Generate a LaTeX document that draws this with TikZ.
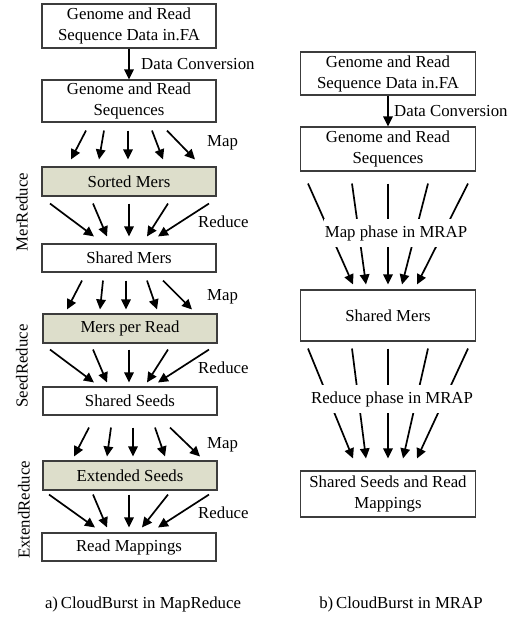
\documentclass[tikz,border=0pt]{standalone}
\usepackage{fontspec}
\setmainfont{Liberation Serif}
\usetikzlibrary{arrows.meta,calc}
\definecolor{boxgreen}{RGB}{221,222,203}
\definecolor{edgegray}{RGB}{60,60,60}
\begin{document}
\begin{tikzpicture}[x=1bp,y=-1bp,
  every node/.style={font=\fontsize{16.8bp}{21bp}\selectfont, inner sep=0pt},
  box/.style={draw=edgegray, line width=1.1bp, align=center, minimum width=174bp},
  gbox/.style={box, fill=boxgreen},
  arr/.style={line width=1.7bp, -{Triangle[length=10bp,width=9.5bp]}},
  lbl/.style={anchor=west},
  phase/.style={fill=white, inner xsep=1bp, inner ysep=6bp}]
\useasboundingbox (0,0) rectangle (517,617);
% left column
\node[box, minimum height=44bp] (l1) at (129,26) {Genome and Read\\Sequence Data in.FA};
\node[box, minimum height=42bp] (l2) at (129,101) {Genome and Read\\Sequences};
\node[gbox, minimum height=29bp] (l3) at (129,181.5) {Sorted Mers};
\node[box, minimum height=28bp] (l4) at (129,258) {Shared Mers};
\node[gbox, minimum height=29bp] (l5) at (130,328.5) {Mers per Read};
\node[box, minimum height=28bp] (l6) at (130,401) {Shared Seeds};
\node[gbox, minimum height=29bp] (l7) at (130,475.5) {Extended Seeds};
\node[box, minimum height=28bp] (l8) at (129,547) {Read Mappings};
\draw[arr] (l1) -- (l2);
\node[lbl] (dc1) at (141,64) {Data Conversion};
% map fan 1
\foreach \a/\b in {-43/-58,-25/-30,-1/-1,23/34,38/66}
  \draw[arr] ($(l2.south)+(\a,8)$) -- ($(l3.north)+(\b,-7)$);
\node[lbl] (m1) at (207,143) {Map};
% reduce fan 1
\foreach \a/\b in {-79/-35,-36/-22,0/0,39/18,80/29}
  \draw[arr] ($(l3.south)+(\a,7)$) -- ($(l4.north)+(\b,-7)$);
\node[lbl] (r1) at (198,222) {Reduce};
% map fan 2
\foreach \a/\b in {-47/-62,-26/-29,-3/-3,18/28,34/63}
  \draw[arr] ($(l4.south)+(\a,8)$) -- ($(l5.north)+(\b-1,-4)$);
\node[lbl] (m2) at (207,297) {Map};
% reduce fan 2
\foreach \a/\b in {-79/-35,-36/-22,0/0,39/18,80/29}
  \draw[arr] ($(l5.south)+(\a-1,6)$) -- ($(l6.north)+(\b-1,-4)$);
\node[lbl] (r2) at (198,368) {Reduce};
% map fan 3
\foreach \a/\b in {-40/-55,-18/-22,4/4,26/36,41/71}
  \draw[arr] ($(l6.south)+(\a-1,12)$) -- ($(l7.north)+(\b-1,-4)$);
\node[lbl] (m3) at (207,445) {Map};
% reduce fan 3
\foreach \a/\b in {-80/-34,-36/-22,0/0,39/13,80/29}
  \draw[arr] ($(l7.south)+(\a-1,4)$) -- ($(l8.north)+(\b,-5)$);
\node[lbl] (r3) at (198,513) {Reduce};
% side labels
\node[rotate=90] (s1) at (22,212) {MerReduce};
\node[rotate=90] (s2) at (22,366) {SeedReduce};
\node[rotate=90] (s3) at (24,510) {ExtendReduce};
\node (ca) at (143,604) {a)\,CloudBurst in MapReduce};
% right column
\node[box, minimum width=175bp, minimum height=43bp] (q1) at (388,73.5) {Genome and Read\\Sequence Data in.FA};
\node[box, minimum width=175bp, minimum height=44bp] (q2) at (388,149) {Genome and Read\\Sequences};
\node[box, minimum width=175bp, minimum height=51bp] (q3) at (388,315.5) {Shared Mers};
\node[box, minimum width=175bp, minimum height=46bp] (q4) at (388,494) {Shared Seeds and Read\\Mappings};
\draw[arr] (q1) -- (q2);
\node[lbl] (dc2) at (394,111) {Data Conversion};
\foreach \a/\b in {-80/-35,-36/-22,0/0,40/14,80/29}
  \draw[arr] ($(q2.south)+(\a,12)$) -- ($(q3.north)+(\b,-5)$);
\node[phase] (mp) at (396,233) {Map phase in MRAP};
\foreach \a/\b in {-80/-35,-36/-22,0/0,40/15,80/29}
  \draw[arr] ($(q3.south)+(\a,7)$) -- ($(q4.north)+(\b,-12)$);
\node[phase] (rp) at (392,399) {Reduce phase in MRAP};
\node (cb) at (401,604) {b)\,CloudBurst in MRAP};
\end{tikzpicture}
\end{document}
